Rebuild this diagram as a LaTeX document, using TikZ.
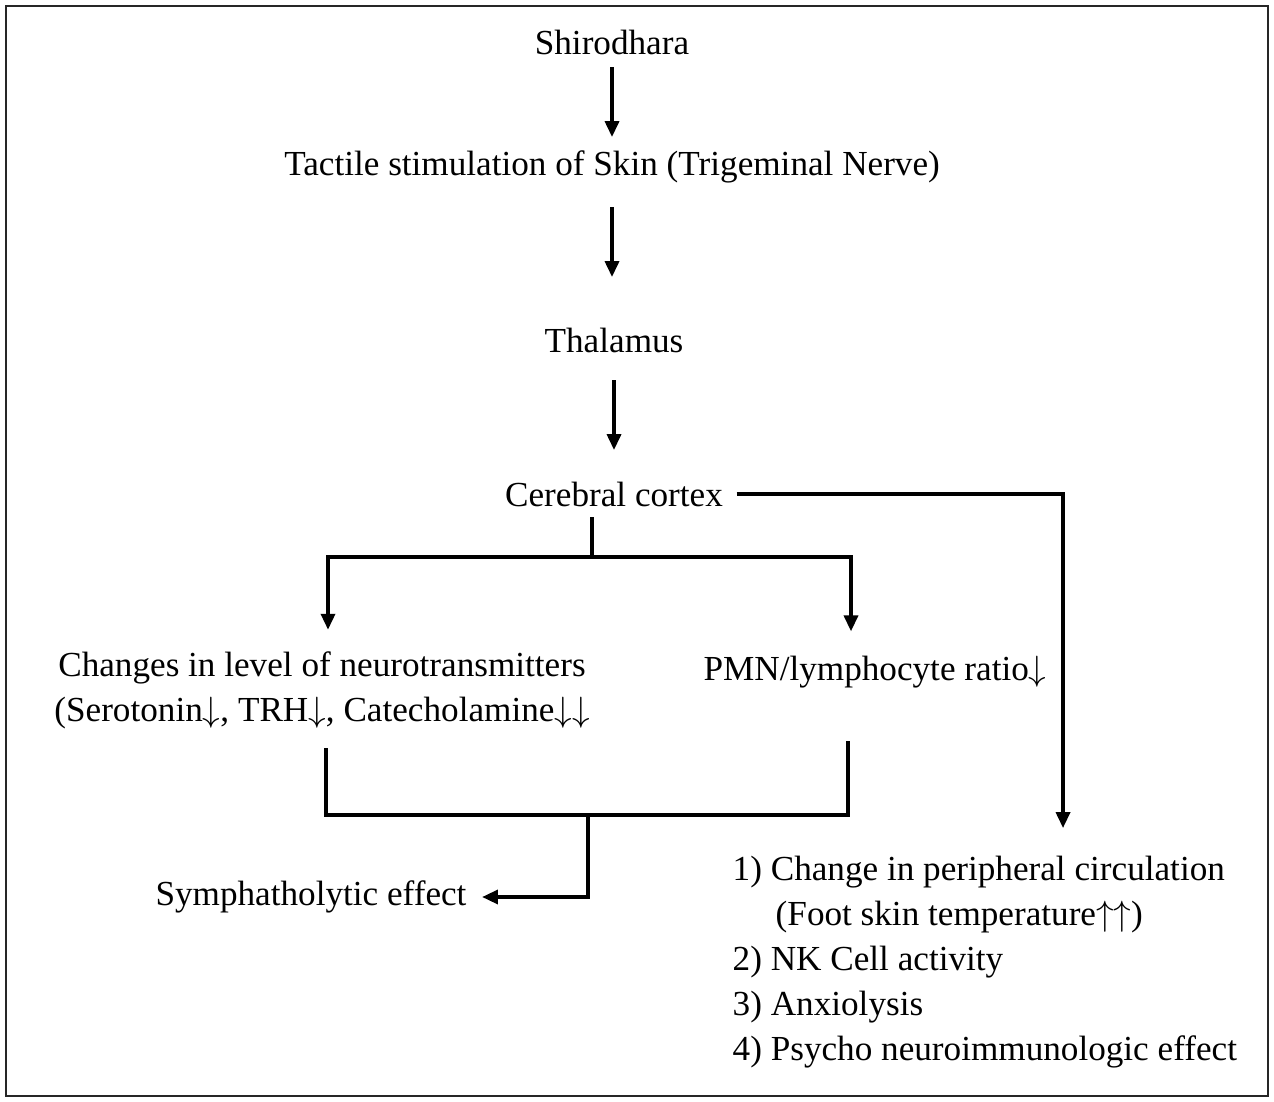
\documentclass[tikz,border=0pt]{standalone}
\usepackage{fontspec}
\setmainfont{Liberation Serif}
\usepackage{tikz}
\usetikzlibrary{arrows.meta, positioning}

\begin{document}
\begin{tikzpicture}[
  x=0.01cm, y=-0.01cm,
  txt/.style={inner sep=0pt, font=\fontsize{10}{12.8}\selectfont},
  link/.style={line width=0.9pt},
  arr/.style={line width=0.9pt, -{Triangle[width=4pt,length=4.5pt]}},
]
\useasboundingbox (0,0) rectangle (1274,1101);
\draw[line width=0.7pt, black!85] (6,6) rectangle (1268,1096);

% --- main chain ---
\node[txt] (shiro) at (612,42) {Shirodhara};
\node[txt] (tactile) at (612,167) {Tactile stimulation of Skin (Trigeminal Nerve)};
\node[txt] (thal) at (614,340) {Thalamus};
\node[txt] (cortex) at (614,494) {Cerebral cortex};

\draw[arr, shorten <=0.25cm, shorten >=0.3cm] (shiro.center) -- (tactile.center);
\draw[arr, shorten <=0.4cm, shorten >=0.63cm] (tactile.center) -- (tactile.center |- thal.center);
\draw[arr, shorten <=0.4cm, shorten >=0.44cm] (thal.center) -- (cortex.center);

% --- two branches ---
\node[txt, align=center] (neuro) at (322,690)
  {Changes in level of neurotransmitters\\(Serotonin$\downarrow$, TRH$\downarrow$, Catecholamine$\downarrow\downarrow$};
\node[txt] (pmn) at (875,672) {PMN/lymphocyte ratio$\downarrow$};

\coordinate (split) at (592,557);
\draw[link, shorten <=0.1cm] (cortex.south -| split) -- (split);
\draw[arr] (split) -| ([xshift=0.06cm,yshift=0.21cm]neuro.north);
\draw[arr] (split) -| ([xshift=-0.24cm,yshift=0.24cm]pmn.north);

% --- merge to effect ---
\node[txt] (symp) at (311,897) {Symphatholytic effect};
\coordinate (merge) at (588,815);
\draw[link] ([xshift=0.04cm,yshift=-0.19cm]neuro.south) |- (merge)
  -| ([xshift=-0.27cm,yshift=-0.52cm]pmn.south);
\draw[arr, shorten >=0.15cm] (merge) |- (symp.east);

% --- right side ---
\node[txt, anchor=west, align=left] (effects) at (732,962)
  {1) Change in peripheral circulation\\
   \hspace*{0.43cm}(Foot skin temperature$\uparrow\uparrow$)\\
   2) NK Cell activity\\
   3) Anxiolysis\\
   4) Psycho neuroimmunologic effect};
\coordinate (circin) at (1063,828);
\draw[arr, shorten <=0.13cm] (cortex.east) -| (circin);

\end{tikzpicture}
\end{document}
